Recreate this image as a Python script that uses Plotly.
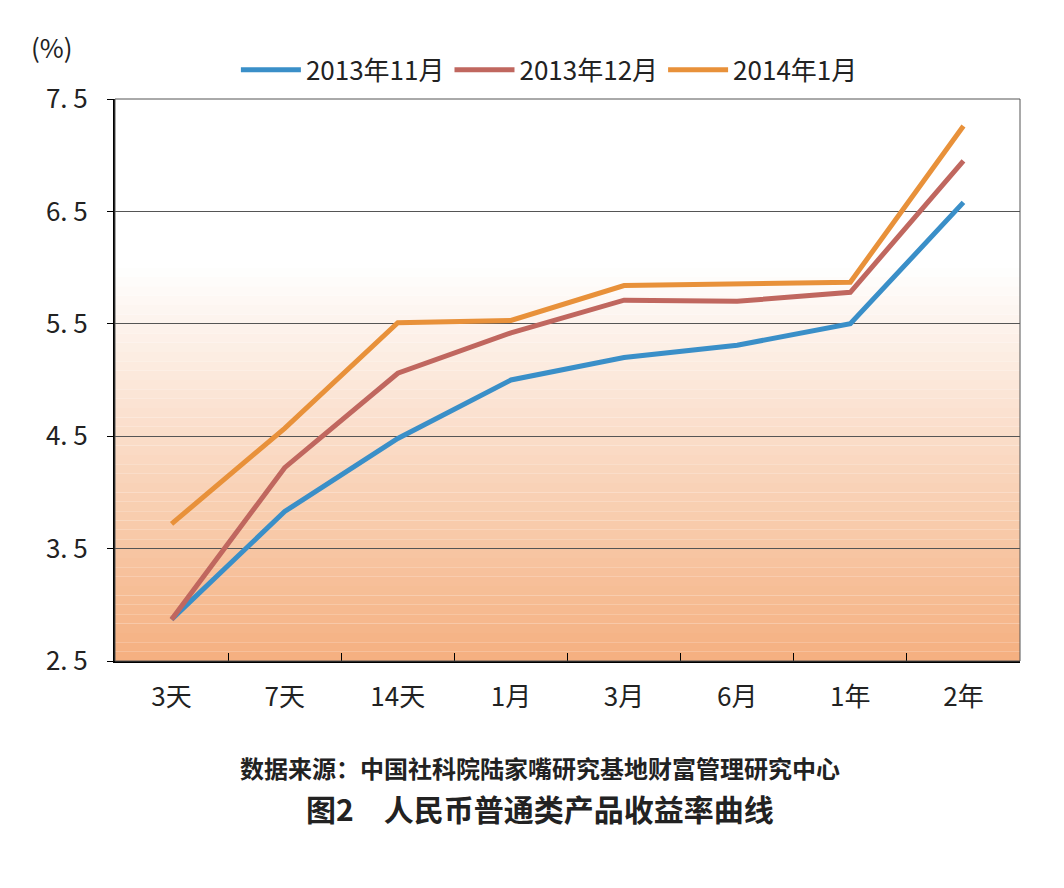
import plotly.graph_objects as go

categories = ["3天", "7天", "14天", "1月", "3月", "6月", "1年", "2年"]
nov2013 = [2.87, 3.83, 4.48, 5.00, 5.20, 5.31, 5.50, 6.58]
dec2013 = [2.87, 4.22, 5.06, 5.42, 5.71, 5.70, 5.78, 6.95]
jan2014 = [3.72, 4.57, 5.51, 5.53, 5.84, 5.85, 5.87, 7.26]
series_names = ["2013年11月", "2013年12月", "2014年1月"]
colors = ["#3a8fc8", "#c0675f", "#e8913a"]
yticks = [2.5, 3.5, 4.5, 5.5, 6.5, 7.5]

fig = go.Figure()

n = 60
for i in range(n):
    y0 = i / n
    y1 = (i + 1) / n
    t = max(0.0, 1 - (y0 + y1) / 2 / 0.7)
    r = int(255 + (245 - 255) * t)
    g = int(255 + (176 - 255) * t)
    b = int(255 + (128 - 255) * t)
    fig.add_shape(type="rect", xref="x domain", yref="y domain", x0=0, x1=1, y0=y0, y1=y1,
                  fillcolor=f"rgb({r},{g},{b})", line_width=0, layer="below")

for name, vals, c in zip(series_names, [nov2013, dec2013, jan2014], colors):
    fig.add_trace(go.Scatter(x=categories, y=vals, name=name, mode="lines",
                             line=dict(color=c, width=5)))

fig.update_layout(
    width=1064, height=888,
    margin=dict(l=107, r=52, t=91, b=235),
    paper_bgcolor="white", plot_bgcolor="rgba(0,0,0,0)",
    font=dict(family="Noto Sans CJK SC", size=24, color="#222"),
    legend=dict(orientation="h", x=0.48, xanchor="center", y=1.01, yanchor="bottom",
                font=dict(size=26), itemwidth=60, bgcolor="rgba(0,0,0,0)"),
    showlegend=True,
    xaxis=dict(type="category", range=[-0.5, 7.5], showgrid=False, showline=True,
               linecolor="black", linewidth=2,
               ticks="inside", tickson="boundaries", ticklen=8, tickcolor="black",
               tickfont=dict(size=26), ticklabelstandoff=12),
    yaxis=dict(range=[2.5, 7.5], tickvals=yticks, ticktext=[f"{v:.1f}".replace(".", ". ") for v in yticks],
               showgrid=True, gridcolor="#555", gridwidth=1,
               showline=True, linecolor="black", linewidth=2, ticks="outside", ticklen=6,
               tickcolor="black", tickfont=dict(size=26), zeroline=False, ticklabelstandoff=14),
    annotations=[
        dict(text="(%)", xref="paper", yref="paper", x=-0.095, y=1.13, showarrow=False,
             xanchor="left", font=dict(size=26)),
        dict(text="<b>数据来源：中国社科院陆家嘴研究基地财富管理研究中心</b>", xref="paper", yref="paper",
             x=0.47, y=-0.225, showarrow=False, font=dict(size=24)),
        dict(text="<b>图2　人民币普通类产品收益率曲线</b>", xref="paper", yref="paper",
             x=0.47, y=-0.305, showarrow=False, font=dict(size=30)),
    ],
)
fig.add_shape(type="rect", xref="x domain", yref="y domain", x0=0, x1=1, y0=0, y1=1,
              line=dict(color="#555", width=1))
fig.write_html("out.html")
